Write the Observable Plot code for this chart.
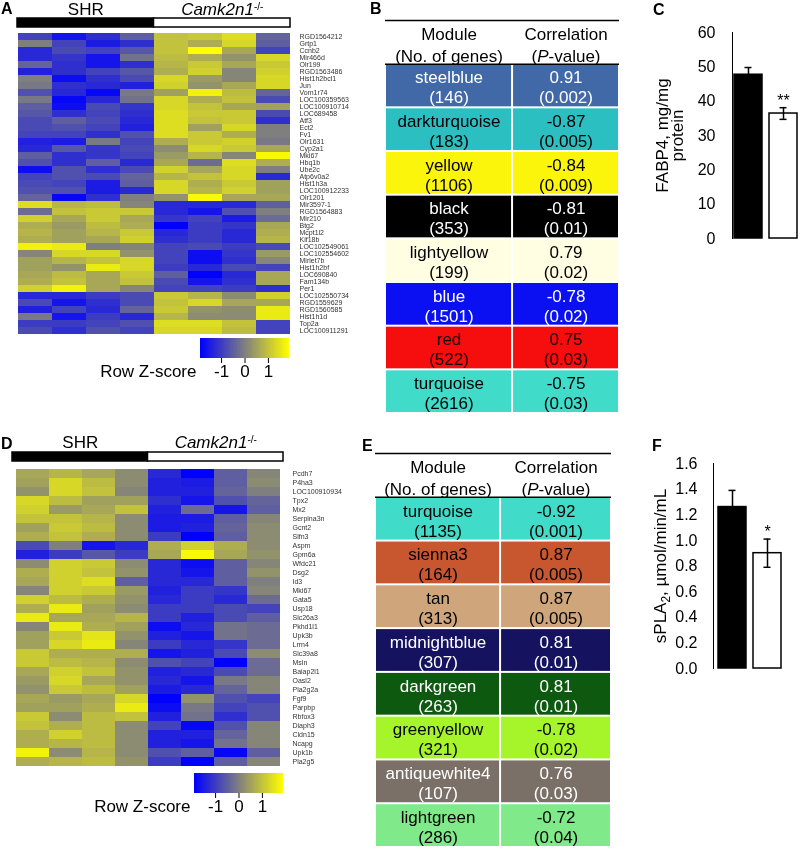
<!DOCTYPE html>
<html><head><meta charset="utf-8">
<script src="https://cdn.jsdelivr.net/npm/d3@7"></script>
<script src="https://cdn.jsdelivr.net/npm/@observablehq/plot@0.6"></script>
<style>
body{margin:0;background:#fff;}
#fig{position:relative;width:800px;height:849px;overflow:hidden;background:#fff;font-family:"Liberation Sans",Arial,Helvetica,sans-serif;}
#fig svg{will-change:transform;}
.letter{position:absolute;font-weight:bold;font-size:16px;line-height:1;will-change:transform;}
</style></head>
<body><div id="fig"></div>
<script>
// ---------------- DATA ----------------
const samples = ["SHR 1","SHR 2","SHR 3","SHR 4","KO 1","KO 2","KO 3","KO 4"];
const groupNames = ["SHR","Camk2n1-/-"];
const groupSizes = [4,4];
const groupFills = ["black","white"];

const genesA = ["RGD1564212","Grtp1","Ccnb2","Mir466d","Olr199","RGD1563486","Hist1h2bcl1","Jun","Vom1r74","LOC100359563","LOC100910714","LOC689458","Atf3","Ect2","Fv1","Olr1631","Cyp2a1","Mki67","Hbq1b","Ube2c","Atp6v0a2","Hist1h3a","LOC100912233","Olr1201","Mir3597-1","RGD1564883","Mir210","Btg2","Mcpt1l2","Kif18b","LOC102549061","LOC102554602","Mirlet7b","Hist1h2bf","LOC690840","Fam134b","Per1","LOC102550734","RGD1559629","RGD1560585","Hist1h1d","Top2a","LOC100911291"];
const zA = [
[-0.9,-1.6,-1.2,-0.5,1.0,1.1,1.4,-0.4],
[0,-0.9,-1.5,-1.2,1.0,0.7,1.3,-0.5],
[-1.3,-0.8,-0.9,-0.6,1.0,1.9,0.6,-0.9],
[-1.3,-1.1,-1.6,-0.2,0.9,0.7,0.3,1.3],
[-0.4,-1.2,-1.6,-1.2,0.8,1.1,0.6,1.1],
[-1.4,-1.2,-0.9,-0.6,0.7,1.2,0.1,1.2],
[0,-1.7,-1.2,-0.8,1.3,0.4,0.1,1.3],
[-0.1,-1.2,-1.3,-1.4,1.2,0.3,0.6,1.3],
[-0.7,-1.3,-1.8,-0.1,0.5,1.7,0.9,-0.4],
[-0.1,-1.8,-1.3,-0.2,1.3,0.7,1.0,-0.8],
[-0.5,-1.7,-0.8,-1.1,1.3,1.0,0.6,0.5],
[-0.6,-1.2,-0.9,-1.2,1.4,1.1,1.1,-0.8],
[-0.8,-0.5,-0.8,-1.3,1.4,1.0,1.1,-1.2],
[-0.8,-0.7,-0.9,-1.4,1.4,0.5,1.3,0],
[-0.9,-0.9,-1.2,-0.7,1.4,1.1,0.7,0],
[-1.4,-1.5,-0.1,-0.9,0.7,1.1,1.2,-0.1],
[-1.3,-0.6,-1.1,-0.8,0.2,1.3,1.1,0.6],
[-0.5,-1.2,-1.1,-0.9,0.4,0.8,0.1,1.8],
[-0.7,-1.2,-0.5,-1.3,0.6,-0.3,1.4,0.7],
[-1.7,-0.7,-1.2,-0.8,1.2,0.6,1.3,0],
[-0.9,-0.7,-0.8,-0.4,0.8,1.0,1.3,-1.3],
[-0.8,-0.9,-1.5,-0.5,1.3,0.7,1.1,0.5],
[-0.7,-0.7,-1.5,-1.3,1.3,0.8,1.2,0.5],
[-0.4,-1.8,-1.2,0,0.3,1.8,0.6,0.6],
[1.4,0.8,0.9,0.1,-1.3,-1.3,-1.3,-0.5],
[-0.3,1.0,1.1,1.1,-1.3,-1.6,-0.7,0],
[1.2,0.6,1.1,0.6,-1.1,-0.9,-1.5,-0.3],
[0.7,0.4,0.9,0.7,-1.9,-1.0,-1.1,0.6],
[0.8,0.5,0.8,1.1,-1.3,-1.0,-1.3,0.7],
[0.7,0.5,0.6,1.2,-1.2,-1.0,-1.3,0.8],
[1.7,1.6,0,0.1,-0.9,-0.8,-1.0,-0.8],
[0.1,1.3,1.3,0.3,-0.9,-1.7,-1.1,0.4],
[0.5,0.8,1.0,1.3,-0.9,-1.7,-1.2,0.1],
[0.5,0.3,1.6,1.3,-1.0,-1.3,-0.8,-0.9],
[0.6,0.9,0.6,1.1,-0.5,-1.9,-1.3,0.6],
[0.7,1.0,0.6,1.0,-0.8,-1.6,-1.2,0.6],
[1.2,1.7,0.6,0.1,-0.9,-0.9,-1.0,-1.2],
[-1.3,-1.3,-1.0,-0.8,1.1,0.8,0.2,1.2],
[-0.8,-1.6,-1.2,-0.8,1.0,1.3,0.6,0.6],
[-1.4,-0.9,-1.3,-0.4,1.1,0.3,0.2,1.6],
[-0.1,-1.6,-1.0,-1.3,0.8,0.2,0.2,1.6],
[-1.0,-1.0,-0.9,-0.7,1.4,1.4,1.0,-0.9],
[-0.8,-1.2,-0.7,-0.9,1.3,1.3,0.9,-0.9]
];

const genesD = ["Pcdh7","P4ha3","LOC100910934","Tpx2","Mx2","Serpina3n","Gcnt2","Slfn3","Aspm","Gpm6a","Wfdc21","Dsg2","Id3","Mki67","Gata5","Usp18","Slc26a3","Pkhd1l1","Upk3b","Lrrn4","Slc39a8","Msln","Baiap2l1","Oasl2","Pla2g2a","Fgf9","Parpbp","Rbfox3","Diaph3","Cldn15","Ncapg","Upk1b","Pla2g5"];
const zD = [
[0.6,0.8,0.6,0.2,-1.3,-1.9,-0.5,0.1],
[0.5,1.3,0.9,0.2,-1.4,-1.5,-0.5,0.2],
[0.3,1.3,1.0,0.1,-1.4,-1.4,-0.4,0.0],
[1.3,0.9,0.5,0.5,-1.2,-1.6,-0.7,-0.4],
[1.2,0.4,0.6,1.0,-1.4,-0.3,-1.6,-0.5],
[1.0,1.0,0.8,0.2,-1.5,-1.5,-0.5,0.1],
[0.5,1.1,0.9,0.2,-1.5,-1.4,-0.4,0.2],
[0.7,1.0,0.7,0.2,-1.0,-1.9,-0.5,0.2],
[-0.8,0.0,-1.6,-1.3,0.7,1.2,0.7,0.2],
[-1.4,-1.0,-0.6,-1.0,0.6,1.8,0.6,0.3],
[0.2,1.2,1.1,0.2,-1.3,-1.7,-0.5,0.1],
[0.7,1.2,1.0,0.3,-1.3,-1.6,-0.5,0.3],
[0.6,1.2,1.4,-0.5,-1.3,-1.3,-0.5,0.0],
[0.1,1.2,1.1,0.4,-1.4,-1.0,-1.1,0.1],
[1.2,0.9,0.7,0.3,-1.3,-1.0,-1.3,-0.3],
[0.7,1.6,0.5,0.2,-1.0,-1.0,-0.8,-0.9],
[1.6,0.6,0.6,0.8,-1.0,-1.4,-0.8,-0.5],
[0.1,1.6,0.7,0.5,-1.7,-1.3,-0.2,-0.3],
[0.5,1.1,1.5,0.3,-1.4,-1.6,-0.2,-0.3],
[0.5,1.3,1.6,0.1,-1.0,-1.3,-1.1,-0.3],
[1.1,0.7,0.7,0.7,-1.6,-1.4,-0.8,0.2],
[1.1,0.9,0.8,0.2,-0.7,-0.9,-1.9,-0.3],
[0.6,1.2,1.0,0.3,-1.4,-1.3,-0.8,-0.3],
[0.4,1.3,0.6,0.3,-1.3,-1.6,-0.1,0.1],
[0.3,1.1,0.9,0.5,-1.5,-1.3,-0.4,0.1],
[0.6,0.4,0.6,1.3,-1.9,0.3,-0.7,-0.9],
[0.5,0.5,0.7,1.6,-1.7,-0.1,-0.9,-0.7],
[1.1,0.2,0.9,1.0,-1.4,-0.2,-1.2,-0.7],
[1.0,0.7,0.9,0.2,-0.9,-1.8,-0.7,0.1],
[0.7,1.2,0.9,0.2,-1.4,-1.4,-0.4,0.1],
[0.7,0.8,0.9,0.2,-1.4,-1.6,-0.2,0.1],
[1.7,0.2,0.8,0.2,-0.7,-0.5,-1.8,-0.5],
[0.7,0.8,0.9,0.3,-1.0,-1.9,-0.5,0.1]
];
const zTicks = [-1,0,1];
const zLabel = "Row Z-score";

const tableHeads = ["Module\n(No. of genes)","Correlation\n(P-value)"];
const modulesB = ["steelblue","darkturquoise","yellow","black","lightyellow","blue","red","turquoise"];
const countB = [146,183,1106,353,199,1501,522,2616];
const corrB = [0.91,-0.87,-0.84,-0.81,0.79,-0.78,0.75,-0.75];
const pvalB = [0.002,0.005,0.009,0.01,0.02,0.02,0.03,0.03];
const fillB = ["#4169a8","#2cbfc2","#fbf50c","#000000","#fffde2","#0a10f2","#f60d0d","#40dcc9"];
const inkB = ["white","black","black","white","black","white","#1a0000","black"];

const modulesE = ["turquoise","sienna3","tan","midnightblue","darkgreen","greenyellow","antiquewhite4","lightgreen"];
const countE = [1135,164,313,307,263,321,107,286];
const corrE = [-0.92,0.87,0.87,0.81,0.81,-0.78,0.76,-0.72];
const pvalE = [0.001,0.005,0.005,0.01,0.01,0.02,0.03,0.04];
const fillE = ["#40dcc9","#c8572f","#cfa67c","#15125f","#0d5910","#a6f52b","#7a7067","#80e98a"];
const inkE = ["black","black","black","white","white","black","white","black"];

const barGroups = ["SHR","Camk2n1-/-"];
const barFills = ["black","white"];
const fabp4Mean = [47.7, 36.4];
const fabp4Sem = [2.1, 1.7];
const fabp4Sig = ["", "**"];
const fabp4Ticks = [0,10,20,30,40,50,60];
const fabp4Label = "FABP4, mg/mg\nprotein";
const spla2Mean = [1.26, 0.90];
const spla2Sem = [0.13, 0.11];
const spla2Sig = ["", "*"];
const spla2Ticks = [0,0.2,0.4,0.6,0.8,1.0,1.2,1.4,1.6];
const spla2Label = "sPLA2, µmol/min/mL";

// ---------------- DRAWING ----------------
const FONT = '"Liberation Sans", Arial, Helvetica, sans-serif';
const fig = document.getElementById("fig");
function place(node, left, top){
  node.style.position = "absolute";
  node.style.left = left + "px";
  node.style.top = top + "px";
  fig.appendChild(node);
  return node;
}
function rich(svg, match, html){
  d3.select(svg).selectAll("text, tspan")
    .filter(function(){ return this.textContent === match && this.children.length === 0; })
    .html(html);
}
const baseStyle = (fs, color="black") => ({fontFamily: FONT, fontSize: fs, color, background: "transparent", overflow: "visible"});
const zMax = 1.9;
const zColor = {type: "linear", domain: [-zMax, 0, zMax], range: ["#0000ff", "#7f7f7f", "#ffff00"], interpolate: "rgb", clamp: true};

function groupHeader(o){
  let start = 0;
  const gs = groupNames.map((name, i) => {
    const g = {name, x1: start, x2: start + groupSizes[i], fill: groupFills[i]};
    start += groupSizes[i];
    return g;
  });
  const svg = Plot.plot({
    width: o.width, height: o.height, marginLeft: o.ml, marginRight: o.mr, marginTop: o.mt, marginBottom: o.mb,
    style: baseStyle("17px"),
    x: {domain: [0, samples.length], axis: null},
    y: {domain: [0, 1], axis: null},
    color: {type: "identity"},
    marks: [
      Plot.rect(gs, {x1: "x1", x2: "x2", y1: 0, y2: 1, fill: "fill", stroke: "black", strokeWidth: 1.5}),
      Plot.text(gs, {x: d => (d.x1 + d.x2) / 2, y: 1, text: "name", dy: o.dy, fontSize: 17, fill: "black"})
    ]
  });
  rich(svg, "Camk2n1-/-", '<tspan font-style="italic">Camk2n1</tspan><tspan font-size="10" dy="-5">-/-</tspan>');
  return svg;
}

function heatmap(genes, z, o){
  const cells = genes.flatMap((gene, i) => samples.map((sample, j) => ({gene, sample, z: z[i][j]})));
  return Plot.plot({
    width: o.width, height: o.height, marginLeft: o.ml, marginRight: o.mr, marginTop: 0, marginBottom: 0,
    style: baseStyle("7px", "#333"),
    x: {domain: samples, padding: 0, axis: null},
    y: {domain: genes, padding: 0, axis: "right", tickSize: 0, tickPadding: o.pad, label: null},
    color: zColor,
    marks: [Plot.cell(cells, {x: "sample", y: "gene", fill: "z"})]
  });
}

function zLegend(o){
  const ramp = d3.ticks(-zMax, zMax, 200);
  const step = ramp[1] - ramp[0];
  return Plot.plot({
    width: o.width, height: o.height, marginLeft: o.ml, marginRight: o.mr, marginTop: o.mt, marginBottom: o.mb,
    style: baseStyle("17px"),
    x: {domain: [-zMax, zMax], ticks: zTicks, tickFormat: d => String(d), tickSize: 5, tickPadding: 1, label: null},
    y: {domain: [0, 1], axis: null},
    color: zColor,
    marks: [
      Plot.rect(ramp, {x1: d => d, x2: d => Math.min(zMax, d + step * 2.5), y1: 0, y2: 1, fill: d => d, shapeRendering: "crispEdges"}),
      Plot.text([zLabel], {frameAnchor: "bottom-left", textAnchor: "end", lineAnchor: "middle", dx: -4, dy: 13, fontSize: 17})
    ]
  });
}

function moduleTable(names, counts, corrs, pvals, fills, inks, o){
  const rows = names.map((name, i) => ({i, name, count: counts[i], corr: corrs[i], p: pvals[i], fill: fills[i], ink: inks[i]}));
  const s = o.split;
  const svg = Plot.plot({
    width: o.width, height: o.height, marginLeft: 0, marginRight: 0, marginTop: o.mt, marginBottom: o.mb,
    style: baseStyle("17px"),
    x: {domain: [0, 1], axis: null},
    y: {domain: [-1, names.length], reverse: true, axis: null},
    color: {type: "identity"},
    marks: [
      Plot.rect(rows, {x1: 0, x2: s, y1: "i", y2: d => d.i + 1, fill: "fill", inset: 1}),
      Plot.rect(rows, {x1: s, x2: 1, y1: "i", y2: d => d.i + 1, fill: "fill", inset: 1}),
      Plot.text(rows, {x: s / 2, y: d => d.i + 0.5, text: d => `${d.name}\n(${d.count})`, fill: "ink", lineHeight: 1.18, dy: 1, fontSize: 17}),
      Plot.text(rows, {x: (1 + s) / 2, y: d => d.i + 0.5, text: d => `${d.corr.toFixed(2)}\n(${d.p})`, fill: "ink", lineHeight: 1.18, dy: 1, fontSize: 17}),
      Plot.text([tableHeads[0]], {x: s / 2, y: -0.5, text: d => d, lineHeight: 1.3, dy: 2, fontSize: 17, fill: "black"}),
      Plot.text([tableHeads[1]], {x: (1 + s) / 2, y: -0.5, text: d => d, lineHeight: 1.3, dy: 2, fontSize: 17, fill: "black"}),
      Plot.ruleY([-1, 0], {stroke: "black", strokeWidth: 1.5})
    ]
  });
  rich(svg, "(P-value)", '(<tspan font-style="italic">P</tspan>-value)');
  return svg;
}

function barChart(means, sems, sig, ticks, fmt, label, o){
  const data = barGroups.map((g, i) => ({g, mean: means[i], sem: sems[i], fill: barFills[i], sig: sig[i]}));
  const svg = Plot.plot({
    width: o.width, height: o.height, marginLeft: o.ml, marginRight: o.mr, marginTop: o.mt, marginBottom: o.mb,
    style: baseStyle("16px"),
    x: {domain: barGroups, paddingInner: 0.19, paddingOuter: o.po, axis: null},
    y: {domain: [0, ticks[ticks.length - 1]], ticks, tickFormat: fmt, tickSize: 0, tickPadding: o.tp, line: true, label: null},
    color: {type: "identity"},
    marks: [
      Plot.barY(data, {x: "g", y: "mean", fill: "fill", stroke: "black", strokeWidth: 1.5}),
      Plot.ruleX(data, {x: "g", y1: d => d.mean - d.sem, y2: d => d.mean + d.sem, stroke: "black", strokeWidth: 1.5}),
      Plot.tickY(data, {x: "g", y: d => d.mean + d.sem, insetLeft: 10.5, insetRight: 10.5, stroke: "black", strokeWidth: 1.5}),
      Plot.tickY(data, {x: "g", y: d => d.mean - d.sem, insetLeft: 10.5, insetRight: 10.5, stroke: "black", strokeWidth: 1.5}),
      Plot.text(data, {x: "g", y: d => d.mean + d.sem, text: "sig", dy: -7, fontSize: 16, fill: "black"}),
      Plot.text([label], {frameAnchor: "left", textAnchor: "middle", lineAnchor: "middle", rotate: -90, dx: o.ldx, fontSize: 17, lineHeight: 0.86, fill: "black"})
    ]
  });
  rich(svg, "sPLA2, µmol/min/mL", 'sPLA<tspan font-size="12" dy="4">2</tspan><tspan dy="-4">, µmol/min/mL</tspan>');
  return svg;
}

// Panel A
place(groupHeader({width: 310, height: 30, ml: 17, mr: 20, mt: 18, mb: 3, dy: -9}), 0, 0);
place(heatmap(genesA, zA, {width: 360, height: 303, ml: 17, mr: 70, pad: 9}), 0, 32);
place(zLegend({width: 210, height: 50, ml: 110, mr: 11, mt: 8, mb: 22}), 90, 330);

// Panel D
place(groupHeader({width: 310, height: 34, ml: 12, mr: 27, mt: 22, mb: 3, dy: -10}), 0, 430);
place(heatmap(genesD, zD, {width: 360, height: 304, ml: 12, mr: 77, pad: 9}), 0, 465);
place(zLegend({width: 210, height: 50, ml: 110, mr: 11, mt: 8, mb: 22}), 84, 765);

// Panel B & E
place(moduleTable(modulesB, countB, corrB, pvalB, fillB, inkB, {width: 234, height: 420, mt: 20, mb: 7, split: 0.543}), 385, 0);
place(moduleTable(modulesE, countE, corrE, pvalE, fillE, inkE, {width: 236, height: 409, mt: 13, mb: 2, split: 0.53}), 375, 440);

// Panel C & F
place(barChart(fabp4Mean, fabp4Sem, fabp4Sig, fabp4Ticks, d => String(d), fabp4Label,
  {width: 160, height: 250, ml: 92, mr: 0, mt: 32, mb: 12, po: 0.056, tp: 17, ldx: -62}), 640, 0);
place(barChart(spla2Mean, spla2Sem, spla2Sig, spla2Ticks, d3.format(".1f"), spla2Label,
  {width: 160, height: 240, ml: 73, mr: 14, mt: 23, mb: 12, po: 0.11, tp: 16, ldx: -52}), 640, 440);

// Panel letters
[["A",1,1],["B",370,1],["C",653,2],["D",1,436],["E",362,438],["F",652,438]].forEach(([t,l,tp]) => {
  const d = document.createElement("div");
  d.className = "letter"; d.textContent = t;
  d.style.left = l + "px"; d.style.top = tp + "px";
  fig.appendChild(d);
});
</script></body></html>
